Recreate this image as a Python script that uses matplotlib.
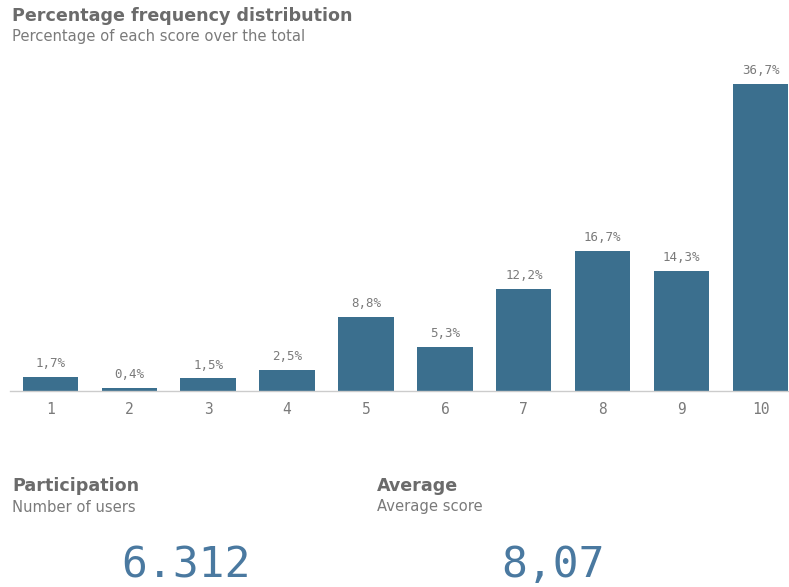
import matplotlib
matplotlib.use("Agg")
import matplotlib.pyplot as plt

scores = ["1", "2", "3", "4", "5", "6", "7", "8", "9", "10"]
percentages = [1.7, 0.4, 1.5, 2.5, 8.8, 5.3, 12.2, 16.7, 14.3, 36.7]
participation = 6312
average_score = 8.07

bar_color = "#3b6f8e"
title_color = "#6b6b6b"
text_color = "#7a7a7a"
mono = "DejaVu Sans Mono"
sans = "DejaVu Sans"

W, H = 789, 587
fig = plt.figure(figsize=(W / 100, H / 100), dpi=100)

# bar chart area
ax = fig.add_axes([10 / W, 1 - 391 / H, 779 / W, 334.6 / H])
x = list(range(1, len(scores) + 1))
ax.bar(x, percentages, width=0.7, color=bar_color)
ax.set_xlim(0.49, 10.36)
ax.set_ylim(0, 40)
for xi, v in zip(x, percentages):
    ax.annotate(f"{v:.1f}%".replace(".", ","), (xi, v), xytext=(0, 5),
                textcoords="offset points", ha="center", va="bottom",
                fontsize=9, family=mono, color=text_color)
ax.set_xticks(x)
ax.set_xticklabels(scores, family=mono, fontsize=10.5, color=text_color)
ax.tick_params(axis="x", length=0, pad=8)
ax.set_yticks([])
for s in ["top", "right", "left"]:
    ax.spines[s].set_visible(False)
ax.spines["bottom"].set_color("#cccccc")
ax.spines["bottom"].set_linewidth(1)

# headings
fig.text(12 / W, 1 - 16 / H, "Percentage frequency distribution", fontsize=12.6,
         fontweight="bold", color=title_color, va="center", family=sans)
fig.text(12 / W, 1 - 37 / H, "Percentage of each score over the total", fontsize=10.6,
         color=text_color, va="center", family=sans)

# KPI panels
fig.text(12 / W, 1 - 486 / H, "Participation", fontsize=12.6, fontweight="bold",
         color=title_color, va="center", family=sans)
fig.text(12 / W, 1 - 507 / H, "Number of users", fontsize=10.6,
         color=text_color, va="center", family=sans)
fig.text(377 / W, 1 - 486 / H, "Average", fontsize=12.6, fontweight="bold",
         color=title_color, va="center", family=sans)
fig.text(377 / W, 1 - 507 / H, "Average score", fontsize=10.6,
         color=text_color, va="center", family=sans)

fig.text(186 / W, 1 - 565 / H, f"{participation:,}".replace(",", "."), fontsize=31,
         color="#4a79a0", ha="center", va="center", family=mono)
fig.text(553 / W, 1 - 565 / H, f"{average_score:.2f}".replace(".", ","), fontsize=31,
         color="#4a79a0", ha="center", va="center", family=mono)

fig.savefig("out.png", dpi=100, facecolor="white")
